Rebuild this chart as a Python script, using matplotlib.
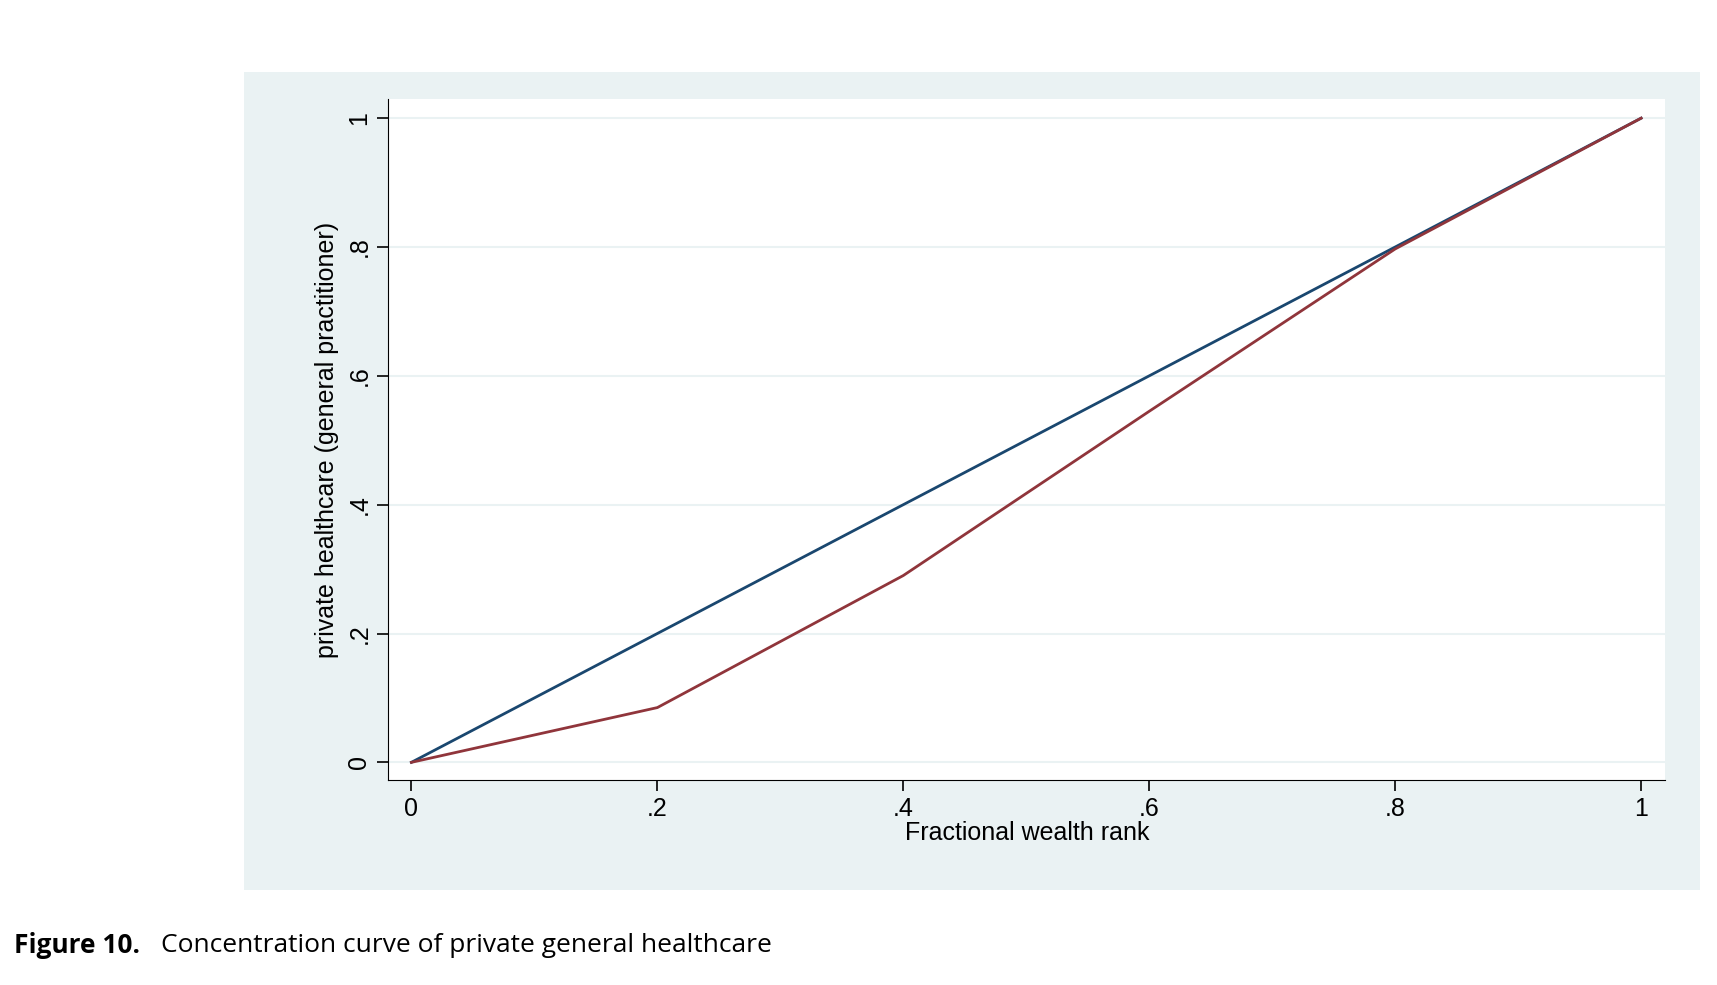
import matplotlib.pyplot as plt

# data
rank = [0, 0.2, 0.4, 0.6, 0.8, 1.0]
equality = [0, 0.2, 0.4, 0.6, 0.8, 1.0]
private_gp = [0, 0.085, 0.29, 0.545, 0.797, 1.0]
ticks = [0, 0.2, 0.4, 0.6, 0.8, 1.0]
tick_labels = ['0', '.2', '.4', '.6', '.8', '1']

plt.rcParams['font.family'] = ['Liberation Sans', 'DejaVu Sans']

fig = plt.figure(figsize=(17.17, 9.85), dpi=100)
# grey panel behind the plot
bg = fig.add_axes([0.142, 0.096, 0.848, 0.831], zorder=0)
bg.set_facecolor('#eaf2f3')
bg.set_xticks([])
bg.set_yticks([])
for s in bg.spines.values():
    s.set_visible(False)

ax = fig.add_axes([0.226, 0.208, 0.744, 0.691], zorder=1)
ax.set_facecolor('white')
ax.plot(rank, equality, color='#1a476f', lw=2)
ax.plot(rank, private_gp, color='#90353b', lw=2)

ax.set_xlim(-0.019, 1.0198)
ax.set_ylim(-0.0276, 1.029)
ax.set_xticks(ticks)
ax.set_xticklabels(tick_labels, fontsize=18)
ax.set_yticks(ticks)
ax.set_yticklabels(tick_labels, fontsize=18, rotation=90, va='center')
ax.yaxis.grid(True, color='#eaf2f3', lw=1.5)
ax.set_axisbelow(True)
for s in ['top', 'right']:
    ax.spines[s].set_visible(False)
ax.tick_params(length=8, width=1.2, pad=4)
ax.set_xlabel('Fractional wealth rank', fontsize=18, labelpad=0)
ax.set_ylabel('private healthcare (general practitioner)', fontsize=18, labelpad=6)

fig.text(0.008, 0.04, 'Figure 10.', fontsize=19, va='center', family='Open Sans',
         fontweight='bold')
fig.text(0.094, 0.04, 'Concentration curve of private general healthcare', fontsize=19,
         va='center', family='Open Sans')

fig.savefig('out.png', dpi=100)
plt.close()
